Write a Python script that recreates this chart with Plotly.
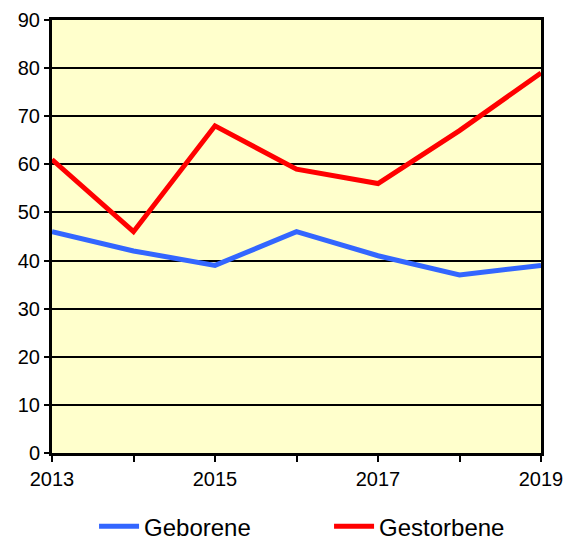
import plotly.graph_objects as go

years = [2013, 2014, 2015, 2016, 2017, 2018, 2019]
geborene = [46, 42, 39, 46, 41, 37, 39]
gestorbene = [61, 46, 68, 59, 56, 67, 79]
x_tick_labels = ["2013", "", "2015", "", "2017", "", "2019"]
y_ticks = [0, 10, 20, 30, 40, 50, 60, 70, 80, 90]

fig = go.Figure()
fig.add_trace(go.Scatter(x=years, y=geborene, mode="lines", name="Geborene",
                         line=dict(color="#3366FF", width=5)))
fig.add_trace(go.Scatter(x=years, y=gestorbene, mode="lines", name="Gestorbene",
                         line=dict(color="#FF0000", width=5)))

font = dict(family="Liberation Sans, Arial, sans-serif", size=20, color="black")

fig.update_layout(
    width=566, height=540,
    margin=dict(l=52, r=25, t=20, b=87, autoexpand=False),
    paper_bgcolor="white",
    plot_bgcolor="#FFFFCC",
    font=font,
    showlegend=True,
    legend=dict(orientation="h", x=0.086, xanchor="left", y=-0.17, yanchor="middle",
                font=dict(size=24), entrywidth=180, entrywidthmode="pixels",
                itemwidth=40, bgcolor="rgba(0,0,0,0)"),
    xaxis=dict(range=[2013, 2019], tickvals=years, ticktext=x_tick_labels,
               ticks="outside", ticklen=6, tickwidth=2, tickcolor="black",
               showline=True, linewidth=3, linecolor="black", mirror=True,
               showgrid=False, zeroline=False, tickfont=dict(size=20),
               automargin=False),
    yaxis=dict(range=[0, 90], tickvals=y_ticks, ticks="outside", ticklen=5,
               tickwidth=2, tickcolor="black",
               showline=True, linewidth=3, linecolor="black", mirror=True,
               showgrid=True, gridcolor="black", gridwidth=2, zeroline=False,
               tickfont=dict(size=20), automargin=False),
)

fig.write_html("out.html", config={"displayModeBar": False},
               post_script="document.body.style.margin='0';document.body.style.overflow='hidden';")
